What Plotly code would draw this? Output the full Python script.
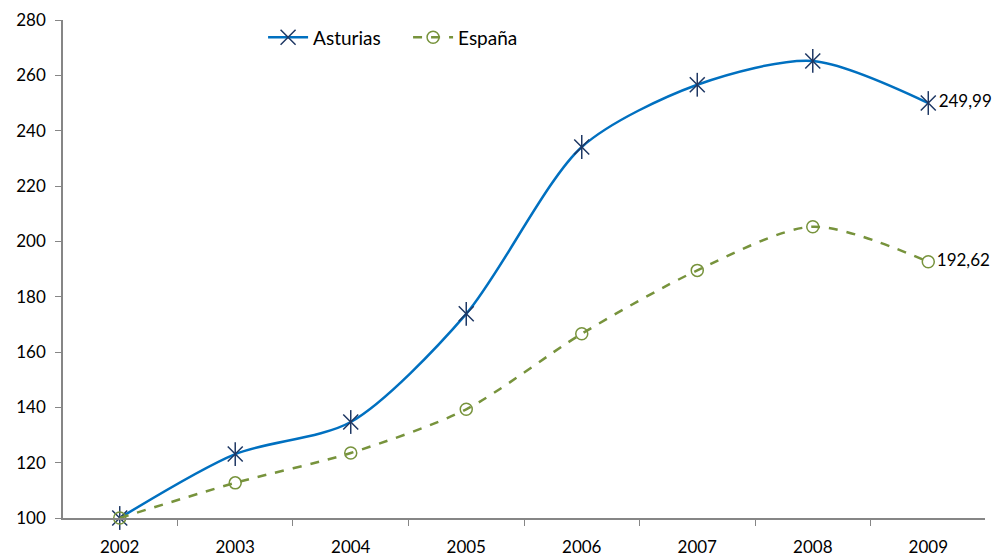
import plotly.graph_objects as go

years = ["2002", "2003", "2004", "2005", "2006", "2007", "2008", "2009"]
asturias = [100, 123.1, 134.7, 173.8, 234.1, 256.6, 265.2, 249.99]
espana = [100, 112.7, 123.5, 139.3, 166.6, 189.5, 205.3, 192.62]
y_ticks = [100, 120, 140, 160, 180, 200, 220, 240, 260, 280]

font_family = "Lato, 'Open Sans', sans-serif"

def last_label(vals):
    return [""] * (len(vals) - 1) + [f"{vals[-1]:.2f}".replace(".", ",")]

fig = go.Figure()
fig.add_trace(go.Scatter(
    x=years, y=asturias, name="Asturias", mode="lines+markers+text",
    line=dict(color="#0070C0", width=2.5, shape="spline", smoothing=0.8),
    marker=dict(symbol="x-thin-open", size=15, color="#1F3864",
                line=dict(color="#1F3864", width=1.5)),
    text=last_label(asturias), textposition="middle right",
    textfont=dict(size=17, color="#000000", family=font_family),
    cliponaxis=False,
))
fig.add_trace(go.Scatter(
    x=years, y=asturias, name="Asturias", mode="markers", showlegend=False,
    marker=dict(symbol="line-ns-open", size=17, color="#1F3864",
                line=dict(color="#1F3864", width=1.5)),
    cliponaxis=False, hoverinfo="skip",
))
fig.add_trace(go.Scatter(
    x=years, y=espana, name="España", mode="lines+markers+text",
    line=dict(color="#77933C", width=2.5, dash="dash", shape="spline", smoothing=0.8),
    marker=dict(symbol="circle-open", size=12, color="#77933C",
                line=dict(color="#77933C", width=1.5)),
    text=last_label(espana), textposition="middle right",
    textfont=dict(size=17, color="#000000", family=font_family),
    cliponaxis=False,
))

fig.update_layout(
    width=1000, height=556,
    margin=dict(l=63, r=15, t=20, b=38),
    paper_bgcolor="white", plot_bgcolor="white",
    font=dict(family=font_family, size=17, color="#000000"),
    showlegend=True,
    legend=dict(orientation="h", x=0.217, y=0.965, xanchor="left", yanchor="middle",
                bgcolor="rgba(0,0,0,0)", font=dict(size=19), itemwidth=40,
                entrywidth=90),
    xaxis=dict(type="category", tickson="boundaries", ticks="outside", ticklen=6,
               tickcolor="#868686", showline=True, linecolor="#868686", linewidth=1.5,
               showgrid=False, zeroline=False, tickfont=dict(size=17),
               ticklabelstandoff=13, automargin=False),
    yaxis=dict(range=[100, 280], tickvals=y_ticks, ticks="outside", ticklen=6,
               tickcolor="#868686", showline=True, linecolor="#868686", linewidth=1.5,
               showgrid=False, zeroline=False, tickfont=dict(size=17),
               ticklabelstandoff=6, automargin=False),
)

fig.write_html("out.html", config={"displayModeBar": False},
               post_script="document.body.style.margin='0';document.body.style.overflow='hidden';")
